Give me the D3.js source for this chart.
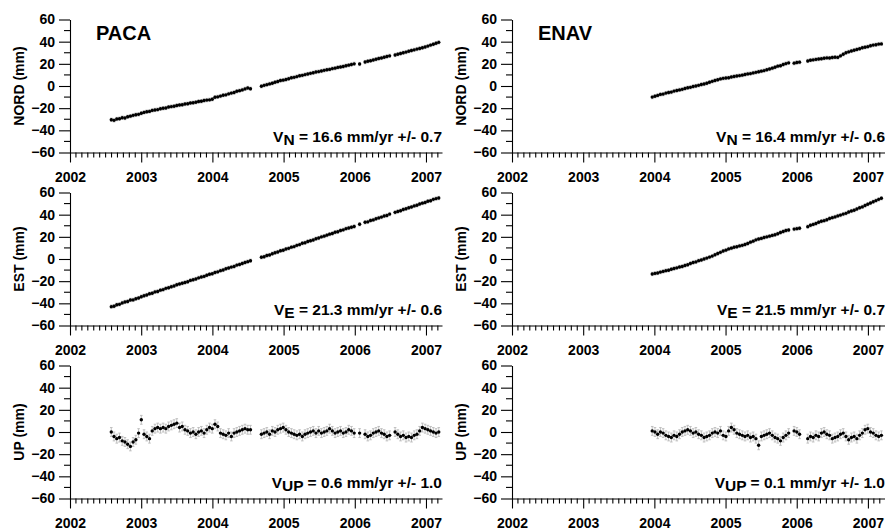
<!DOCTYPE html>
<html><head><meta charset="utf-8">
<script src="https://cdn.jsdelivr.net/npm/d3@7"></script>
<style>
body{margin:0;background:#fff}
text{font-family:Arial,"Liberation Sans",sans-serif;font-weight:bold;fill:#000}
</style>
</head><body><svg id="c" width="885" height="530"></svg>
<script>
// ---------- DATA ----------
const stations = ["PACA", "ENAV"];
const componentTitles = ["NORD (mm)", "EST (mm)", "UP (mm)"];
const yTickValues = [-60, -40, -20, 0, 20, 40, 60];
const yMinorValues = [-50, -30, -10, 10, 30, 50];
const xTickYears = [2002, 2003, 2004, 2005, 2006, 2007];
// sampling (decimal years): first epoch of each station, 14-day spacing
const pacaStart = 2002.58;
const enavStart = 2003.97;
const sampleStepDays = 14;

const pacaNord = [-30.5,-31,-29.8,-29.5,-28.6,-28.9,-27.8,-27.2,-26.5,-25.9,-25.6,-24.6,
 -23.8,-23.2,-22.9,-22.0,-21.6,-21.3,-20.5,-20.1,-19.8,-19.0,-18.6,-18.3,-17.6,
 -17.2,-16.9,-16.3,-16.0,-15.4,-15.1,-14.6,-14.0,-13.8,-13.1,-12.7,-12.5,-11.9,
 -10.2,-9.8,-9.1,-8.3,-8.0,-7.1,-6.4,-5.9,-4.8,-4.2,-3.5,-2.6,-1.8,-2.5,
 null,null,null,
 -0.2,0.6,1.2,1.9,2.5,3.4,4.0,4.9,
 5.3,5.8,6.6,7.4,7.8,8.5,9.2,9.6,10.3,10.8,11.4,11.9,12.6,13.0,
 13.5,14.1,14.6,15.0,15.7,16.1,16.8,17.2,17.6,18.3,18.8,19.4,
 20.0,null,19.8,null,21.6,
 22.3,22.8,23.5,24.1,24.8,25.3,26.0,26.6,27.2,
 null,28.0,
 28.7,29.3,30.0,30.6,31.4,32.0,32.6,33.3,33.9,34.5,35.2,
 36.0,36.9,37.7,38.6,39.4];

const pacaEst = [-43.0,-42.6,-41.3,-40.9,-39.6,-38.8,-38.3,-37.0,-36.9,-35.9,
 -35.2,-34.0,-33.1,-32.5,-31.4,-30.9,-29.7,-29.3,-28.1,-27.6,
 -26.5,-25.9,-25.0,-24.3,-23.2,-22.6,-21.9,-21.2,-20.5,-19.3,
 -18.7,-18.0,-17.0,-16.2,-15.7,-14.6,-13.8,-13.3,-12.2,-11.6,
 -10.5,-9.9,-8.8,-8.1,-7.3,-6.7,-5.5,-4.9,-4.0,-3.1,-2.4,-1.6,
 null,null,null,
 1.6,2.0,3.1,3.6,4.8,
 5.7,6.3,7.4,7.9,9.0,9.6,10.7,11.2,12.3,13.0,
 14.2,14.7,15.8,16.5,17.2,18.3,18.9,20.0,20.6,21.5,
 22.4,23.0,24.1,24.6,25.7,26.3,27.4,28.0,28.6,29.3,
 null,31.4,null,33.1,33.5,34.8,35.3,36.3,37.1,37.8,
 38.8,39.3,40.5,null,42.1,42.9,43.6,44.7,45.3,46.2,
 46.9,47.9,48.5,49.6,50.4,51.0,52.1,52.6,53.8,54.5,55.0];

const pacaUp = [0,-4,-6,-5,-8,-9,-11,-13,-9,-7,-1,11,
 -2,-4,-6,1,3,4,3,4,3,5,6,7,8,
 4,5,2,1,-1,0,-2,0,1,-1,2,4,3,
 7,5,-1,-2,-3,-1,-4,-1,0,1,2,3,2,2,
 null,null,null,
 -2,-1,0,-2,1,0,2,3,
 4,2,0,-1,-2,-3,-2,-4,-2,-1,0,1,-1,1,
 -1,0,1,3,1,-1,0,1,-1,0,2,1,
 -1,null,-1,null,-2,
 -4,-3,-1,0,1,-1,-2,-4,-3,
 null,0,
 -2,-4,-3,-5,-4,-5,-3,-2,1,4,3,
 2,1,0,-1,0];

const enavNord = [-10.0,-9.2,-8.5,-7.6,-7.3,-6.4,-5.9,-5.5,-4.6,-4.1,
 -3.5,-3.0,-2.2,-1.6,-1.2,-0.5,0.0,0.6,1.3,1.8,
 2.5,3.4,4.2,5.0,5.6,6.4,6.9,7.2,7.4,8.1,
 8.6,9.0,9.4,9.8,10.4,10.9,11.2,11.8,12.3,12.9,
 13.4,13.9,14.6,15.3,16.1,16.9,17.9,18.3,19.4,20.2,
 20.9,null,20.6,21.2,21.5,null,null,22.6,23.3,23.6,
 24.0,24.3,24.6,25.1,25.4,25.2,25.7,26.0,25.8,27.2,
 28.6,30.0,30.8,31.6,32.3,33.0,33.6,34.5,35.0,35.5,
 36.3,36.9,37.2,37.8,38.0];

const enavEst = [-13.5,-13.0,-12.6,-11.8,-11.2,-10.5,-10.1,-9.2,-8.6,-8.0,
 -7.2,-6.7,-5.8,-5.2,-4.1,-3.2,-2.6,-1.5,-0.9,0.0,
 0.8,1.7,2.6,3.8,4.9,6.0,7.2,8.0,9.1,9.8,
 10.6,11.0,11.8,12.3,13.1,14.0,15.2,16.1,17.3,18.0,
 18.6,19.4,20.0,20.6,21.3,21.9,22.8,23.9,24.8,25.7,
 26.1,null,27.0,27.4,27.8,null,null,29.2,30.4,31.2,
 32.0,33.2,34.0,34.6,35.4,36.6,37.3,38.0,38.9,39.6,
 40.5,41.2,42.4,43.3,44.0,45.1,46.2,47.0,48.3,49.4,
 50.5,51.6,52.7,53.8,54.8];

const enavUp = [1,0,-2,0,-1,-3,-4,-5,-3,-4,
 -2,0,1,2,1,-1,0,-2,-3,-5,
 -4,-3,-1,0,-1,1,-3,-4,1,4,
 2,-1,-2,-3,-4,-3,-5,-4,-6,-12,
 -4,-3,-2,-1,-3,-5,-6,-8,-5,-3,
 -1,null,1,0,-2,null,null,-6,-4,-5,
 -3,-4,-1,0,-2,-3,-6,-5,-4,-2,
 -1,-4,-7,-5,-4,-6,-3,-1,2,3,
 0,-1,-3,-4,-3];

// formal errors (mm) per component
const componentSigma = [1.5, 1.5, 4];

// velocity annotations: [subscript, rate, uncertainty]
const pacaVelocity = [["N","16.6","0.7"],["E","21.3","0.6"],["UP","0.6","1.0"]];
const enavVelocity = [["N","16.4","0.6"],["E","21.5","0.7"],["UP","0.1","1.0"]];

// ---------- LAYOUT ----------
const FONT = "Arial, 'Liberation Sans', sans-serif";
const svg = d3.select("#c");
const panelX = [{x0:70, x1:442, dEnd:2007.225}, {x0:512, x1:885, dEnd:2007.24}];
const rowTop = [19.5, 192.5, 365.5];
const rowH = 133;

const stationSeries = [
  {start: pacaStart, series: [pacaNord, pacaEst, pacaUp], vel: pacaVelocity},
  {start: enavStart, series: [enavNord, enavEst, enavUp], vel: enavVelocity}
];
const step = sampleStepDays / 365.25;

stationSeries.forEach((st, si) => {
  const px = panelX[si];
  const x = d3.scaleLinear().domain([2002, px.dEnd]).range([px.x0, px.x1]);
  const months = d3.range(1, Math.floor((px.dEnd - 2002) * 12) + 1)
    .filter(k => k % 12 !== 0).map(k => 2002 + k / 12);

  st.series.forEach((vals, ci) => {
    const top = rowTop[ci];
    const bottom = top + rowH;
    const y = d3.scaleLinear().domain([-60, 60]).range([bottom, top]);
    const g = svg.append("g");

    const pts = vals.map((v, i) => ({t: st.start + i * step, v})).filter(d => d.v !== null);
    const sig = componentSigma[ci];

    // error bars
    const eb = g.append("g").attr("stroke", "#b9b9b9").attr("stroke-width", 0.9);
    pts.forEach(d => {
      const xx = x(d.t);
      eb.append("line").attr("x1", xx).attr("x2", xx).attr("y1", y(d.v - sig)).attr("y2", y(d.v + sig));
      eb.append("line").attr("x1", xx - 1.3).attr("x2", xx + 1.3).attr("y1", y(d.v - sig)).attr("y2", y(d.v - sig));
      eb.append("line").attr("x1", xx - 1.3).attr("x2", xx + 1.3).attr("y1", y(d.v + sig)).attr("y2", y(d.v + sig));
    });
    // points
    g.append("g").selectAll("circle").data(pts).join("circle")
      .attr("cx", d => x(d.t)).attr("cy", d => y(d.v)).attr("r", 1.7).attr("fill", "#000");

    // minor ticks (manual)
    const mt = g.append("g").attr("stroke", "#000").attr("stroke-width", 1.1);
    mt.selectAll("line.ym").data(yMinorValues).join("line").attr("class", "ym")
      .attr("x1", px.x0 - 6).attr("x2", px.x0).attr("y1", d => y(d)).attr("y2", d => y(d));
    mt.selectAll("line.xm").data(months).join("line").attr("class", "xm")
      .attr("x1", d => x(d)).attr("x2", d => x(d)).attr("y1", bottom).attr("y2", bottom + 5);

    // major axes
    g.append("g").attr("transform", `translate(${px.x0},0)`)
      .call(d3.axisLeft(y).tickValues(yTickValues).tickSize(11).tickSizeOuter(0).tickPadding(4).tickFormat(d3.format("d")))
      .call(a => a.selectAll("text").attr("font-size", 14).attr("font-family", FONT));
    g.append("g").attr("transform", `translate(0,${bottom})`)
      .call(d3.axisBottom(x).tickValues(xTickYears).tickSize(10).tickSizeOuter(0).tickPadding(10).tickFormat(d3.format("d")))
      .call(a => a.selectAll("text").attr("font-size", 14).attr("font-family", FONT));

    g.selectAll(".domain, .tick line").attr("stroke", "#000").attr("stroke-width", 1.1);

    // y title
    g.append("text")
      .attr("transform", `translate(${px.x0 - 46},${top + rowH / 2}) rotate(-90)`)
      .attr("text-anchor", "middle").attr("font-size", 14)
      .text(componentTitles[ci]);

    // velocity label
    const vl = st.vel[ci];
    const t = g.append("text").attr("x", px.x1).attr("y", bottom - 11)
      .attr("text-anchor", "end").attr("font-size", 15.5);
    t.append("tspan").text("V");
    t.append("tspan").attr("dy", 3).text(vl[0]);
    t.append("tspan").attr("dy", -3).text(` = ${vl[1]} mm/yr +/- ${vl[2]}`);
  });

  // station name
  svg.append("text").attr("x", px.x0 + 26).attr("y", 39.5).attr("font-size", 20).text(stations[si]);
});
</script>
</body></html>
